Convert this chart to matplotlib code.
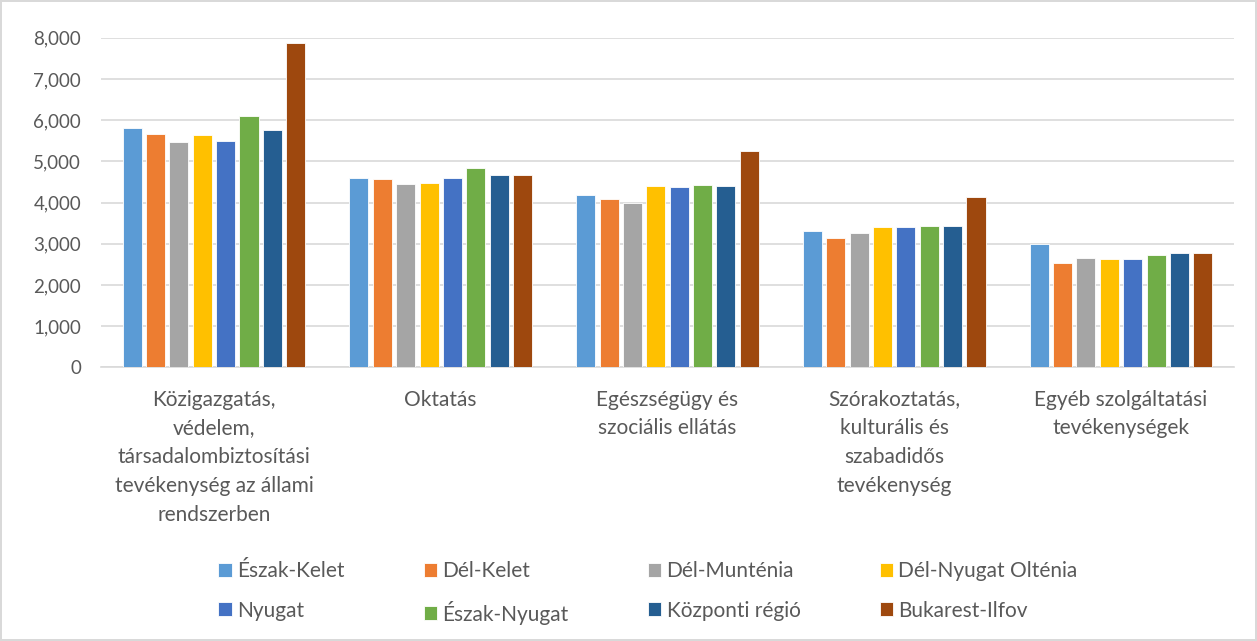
import matplotlib.pyplot as plt
import numpy as np

categories = ['Közigazgatás,\nvédelem,\ntársadalombiztosítási\ntevékenység az állami\nrendszerben',
              'Oktatás',
              'Egészségügy és\nszociális ellátás',
              'Szórakoztatás,\nkulturális és\nszabadidős\ntevékenység',
              'Egyéb szolgáltatási\ntevékenységek']
regions = ['Észak-Kelet', 'Dél-Kelet', 'Dél-Munténia', 'Dél-Nyugat Olténia',
           'Nyugat', 'Észak-Nyugat', 'Központi régió', 'Bukarest-Ilfov']
eszak_kelet = [5810, 4590, 4180, 3320, 3000]
del_kelet = [5670, 4575, 4080, 3145, 2540]
del_muntenia = [5480, 4455, 3990, 3260, 2645]
del_nyugat_oltenia = [5640, 4470, 4395, 3400, 2620]
nyugat = [5500, 4605, 4370, 3400, 2635]
eszak_nyugat = [6090, 4840, 4420, 3430, 2720]
kozponti = [5760, 4665, 4395, 3430, 2775]
bukarest = [7870, 4665, 5250, 4130, 2775]
series = [eszak_kelet, del_kelet, del_muntenia, del_nyugat_oltenia,
          nyugat, eszak_nyugat, kozponti, bukarest]
colors = ['#5B9BD5', '#ED7D31', '#A5A5A5', '#FFC000',
          '#4472C4', '#70AD47', '#255E91', '#9E480E']

plt.rcParams['font.family'] = ['Lato', 'DejaVu Sans']
txt = '#595959'

fig = plt.figure(figsize=(12.57, 6.41), dpi=100)
fig.patch.set_edgecolor('#D9D9D9')
fig.patch.set_linewidth(1.5)
ax = fig.add_axes([0.08, 0.427, 0.902, 0.514])

x = np.arange(len(categories))
pitch = 0.103
w = 0.084
for i, (vals, name, c) in enumerate(zip(series, regions, colors)):
    ax.bar(x + (i - 3.5) * pitch, vals, w, color=c, label=name,
           edgecolor='white', linewidth=0.6, zorder=3)

ax.set_xlim(-0.5, len(categories) - 0.5)
ax.set_ylim(0, 8000)
ax.set_yticks(range(0, 8001, 1000))
ax.set_yticklabels([f'{v:,}' for v in range(0, 8001, 1000)], fontsize=13.5, color=txt)
ax.set_xticks(x)
ax.set_xticklabels(categories, fontsize=15, color=txt, linespacing=1.55, va='top')
ax.tick_params(axis='x', length=0, pad=16)
ax.tick_params(axis='y', length=0, pad=14)
ax.grid(axis='y', color='#D9D9D9', linewidth=1.2, zorder=0)
for s in ['top', 'right', 'left']:
    ax.spines[s].set_visible(False)
ax.spines['bottom'].set_color('#D9D9D9')
ax.spines['bottom'].set_linewidth(1.2)

# legend reads row by row, matplotlib fills column by column
h, l = ax.get_legend_handles_labels()
order = [0, 4, 1, 5, 2, 6, 3, 7]
fig.legend([h[i] for i in order], [l[i] for i in order], loc='upper left',
           bbox_to_anchor=(0.167, 0.138), ncol=4, frameon=False,
           fontsize=15, labelcolor=txt, handlelength=0.65, handleheight=0.65,
           handletextpad=0.25, columnspacing=3.8, labelspacing=0.95, borderaxespad=0)

plt.savefig('out.png', dpi=100)
